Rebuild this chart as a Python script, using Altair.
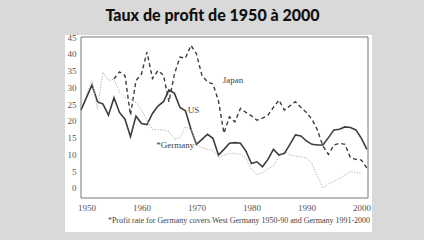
import altair as alt
import pandas as pd

# ---- data ----
us_years = list(range(1949, 2002))
us_values = [23.2, 27.0, 30.7, 25.7, 25.0, 21.7, 26.9, 22.5, 20.5, 15.3,
             21.4, 19.2, 18.9, 22.2, 24.4, 25.7, 29.2, 28.2, 24.0, 23.0,
             17.5, 13.0, 14.5, 16.0, 14.8, 9.8, 11.5, 13.3, 13.5, 13.3,
             11.0, 7.3, 7.8, 6.3, 8.5, 11.5, 9.8, 10.3, 13.0, 15.8,
             15.5, 14.0, 13.0, 12.8, 12.8, 15.0, 17.3, 17.5, 18.2, 18.0,
             17.3, 14.8, 11.5]

japan_years = list(range(1955, 2002))
japan_values = [32.5, 34.6, 33.5, 21.7, 32.0, 34.0, 40.5, 32.6, 35.0, 33.6,
                25.7, 34.0, 39.0, 38.7, 42.5, 40.0, 33.5, 31.6, 31.0, 26.0,
                16.3, 21.2, 19.7, 23.7, 22.5, 21.5, 20.2, 20.8, 21.7, 24.0,
                26.2, 23.2, 24.5, 25.7, 24.0, 22.5, 20.5, 17.3, 12.5, 10.0,
                12.8, 13.3, 13.0, 9.0, 8.5, 8.3, 5.9]

germany_years = list(range(1950, 2001))
germany_values = [28.0, 32.0, 23.5, 34.5, 32.0, 32.5, 28.5, 27.0, 26.5, 25.5,
                  23.5, 20.0, 17.5, 17.3, 17.3, 16.8, 14.5, 15.0, 18.3, 17.5,
                  13.0, 12.0, 11.5, 11.2, 9.0, 9.8, 10.3, 10.3, 10.0, 9.0,
                  5.6, 3.9, 4.5, 5.8, 6.5, 9.3, 11.0, 9.8, 9.5, 9.3,
                  8.8, 7.3, 3.5, 0.0, 1.2, 1.9, 2.8, 3.8, 4.9, 4.6,
                  4.4]

label_texts = ["Japan", "US", "*Germany"]
label_years = [1974.8, 1968.4, 1962.7]
label_values = [32.1, 23.2, 12.8]

y_ticks = [0, 5, 10, 15, 20, 25, 30, 35, 40, 45]
x_ticks = [1950, 1960, 1970, 1980, 1990, 2000]

title_text = "Taux de profit de 1950 à 2000"
footnote = "*Profit rate for Germany covers West Germany 1950-90 and Germany 1991-2000"

# ---- tables ----
us_df = pd.DataFrame({"year": us_years, "value": us_values})
jp_df = pd.DataFrame({"year": japan_years, "value": japan_values})
de_df = pd.DataFrame({"year": germany_years, "value": germany_values})
lab_df = pd.DataFrame({"label": label_texts, "year": label_years, "value": label_values})

SERIF = "Liberation Serif"
INK = "#444444"

xscale = alt.Scale(domain=[1949, 2001.2], nice=False, zero=False)
yscale = alt.Scale(domain=[-3, 45], nice=False, zero=False)

xenc = alt.X("year:Q", scale=xscale,
             axis=alt.Axis(values=x_ticks, format="d", title=None, grid=False,
                           domain=False, ticks=False, labelPadding=5, zindex=2,
                           labelOverlap=False,
                           labelFont=SERIF, labelFontSize=9, labelColor="#555"))
yenc = alt.Y("value:Q", scale=yscale,
             axis=alt.Axis(values=y_ticks, title=None, grid=False, domain=False,
                           ticks=False, labelPadding=5, labelFont=SERIF, zindex=2,
                           labelOverlap=False,
                           labelFontSize=9, labelColor="#555"))

one = pd.DataFrame({"a": [0]})

panel = alt.Chart(one).mark_rect(fill="white").encode(
    x=alt.value(-16), x2=alt.value(291), y=alt.value(-2), y2=alt.value(195)
)

frame = alt.Chart(one).mark_rect(fill="white", fillOpacity=0, stroke="#777",
                                 strokeWidth=1).encode(
    x=alt.value(0), x2=alt.value(287), y=alt.value(0), y2=alt.value(161)
)

us_line = alt.Chart(us_df).mark_line(color="#3d3d3d", strokeWidth=1.6).encode(x=xenc, y=yenc)
jp_line = alt.Chart(jp_df).mark_line(color="#3d3d3d", strokeWidth=1.4,
                                     strokeDash=[4, 3]).encode(x=xenc, y=yenc)
de_line = alt.Chart(de_df).mark_line(color="#b0b0b0", strokeWidth=1.0,
                                     strokeDash=[1.2, 1.5]).encode(x=xenc, y=yenc)

labels = alt.Chart(lab_df).mark_text(font=SERIF, fontSize=9, fill=INK,
                                     align="left", baseline="middle").encode(
    x=xenc, y=yenc, text="label:N", color=alt.value(INK)
)

note = alt.Chart(pd.DataFrame({"t": [footnote]})).mark_text(
    font=SERIF, fontSize=8, fill=INK, align="center", baseline="middle"
).encode(x=alt.value(158), y=alt.value(184), text="t:N", color=alt.value(INK))

chart = alt.layer(panel, us_line, jp_line, de_line, labels, note, frame).properties(
    width=287, height=161,
    autosize=alt.AutoSizeParams(type="none"),
    padding={"left": 81, "top": 37, "right": 56, "bottom": 42},
    background="#d9d9d9",
    title=alt.Title(title_text, font="Lato", fontSize=16, fontWeight=900,
                    color="#111", anchor="middle", dx=-12, offset=9),
).configure_view(stroke=None)

chart.save("out.html", embed_options={"renderer": "svg", "actions": False})
